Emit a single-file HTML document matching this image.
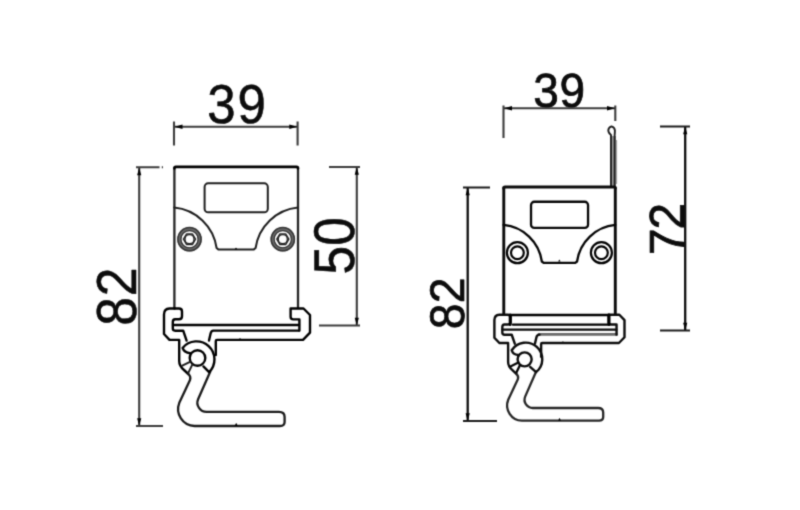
<!DOCTYPE html><html><head><meta charset="utf-8"><title>Dimensions</title>
<style>html,body{margin:0;padding:0;background:#fff;}body{width:800px;height:510px;overflow:hidden;}svg{display:block;}text{font-family:"Liberation Sans",Arial,sans-serif;text-rendering:geometricPrecision;fill:#0c0c0c;stroke:#0c0c0c;stroke-linejoin:round;}.m{fill:none;stroke:#1e1e1e;stroke-width:2.0;stroke-linecap:round;stroke-linejoin:round;vector-effect:non-scaling-stroke;}.t{fill:none;stroke:#000;stroke-width:2.4;stroke-linecap:round;stroke-linejoin:round;vector-effect:non-scaling-stroke;}.d{fill:none;stroke:#3c3c3c;stroke-width:2.1;}.s{fill:none;stroke:#262626;stroke-width:2.3;stroke-linecap:round;vector-effect:non-scaling-stroke;}.a{fill:#000;stroke:none;}.arm{stroke:#1a1a1a;stroke-width:2.3;}.r .t.arm{stroke:#262626;stroke-width:2.3;}.r .s{stroke-width:2.9;stroke:#0a0a0a;}.r .t{stroke-width:2.4;stroke:#0c0c0c;}.r .m{stroke-width:2.3;stroke:#050505;}</style></head><body>
<svg width="800" height="510" viewBox="0 0 800 510">
<defs><filter id="soft" x="0" y="0" width="800" height="510" filterUnits="userSpaceOnUse" color-interpolation-filters="sRGB"><feConvolveMatrix order="3" kernelMatrix="1 4 1 4 16 4 1 4 1" edgeMode="duplicate" preserveAlpha="false"/></filter></defs>
<rect width="800" height="510" fill="#fff"/>
<g filter="url(#soft)">
<g id="left">
<text transform="matrix(1.0220 0 0 1.0944 0 122.78)" x="202.89 232.51" y="0" font-size="50" stroke-width="0.5">39</text>
<path class="d" d="M174 126.8H298M174 121.5V145.5M297.6 121.5V145.5"/>
<path class="a" d="M174.5 126.8l8 -2.3v4.6zM297.3 126.8l-8 -2.3v4.6z"/>
<text transform="matrix(0 -1.0328 1.1250 0 136.36 0)" x="-315.32 -286.92" y="0" font-size="50" stroke-width="0.5">82</text>
<path class="d" d="M139.2 167.5V426M136 167.3H159.5M161.8 167.3H163M136 426H163"/>
<path class="a" d="M139.2 167.8l-2.1 7.5h4.2zM139.2 425.7l-2.1 -7.5h4.2z"/>
<text transform="matrix(0 -1.0268 1.1472 0 353.94 0)" x="-267.28 -239.33" y="0" font-size="50" stroke-width="0.5">50</text>
<path class="d" d="M356.8 167V325.5M329 167H360M319 325.5H360"/>
<path class="a" d="M356.8 167.3l-2.1 7.5h4.2zM356.8 325.2l-2.1 -7.5h4.2z"/>
<path class="s" d="M174.4 308V168M298 168V308"/>
<path class="t" d="M174.4 168.4Q174.4 166.9 175.8 166.9H296.6Q298 166.9 298 168.4" style="stroke-width:2.6"/>
<rect class="m" x="204.6" y="183.3" width="63.2" height="29" rx="3.6" ry="3.6"/>
<path class="m" transform="translate(0 0)" d="M174.2 207.5A47.4 47.4 0 0 1 216.6 248L218.6 249.6H253.6L255.6 248A47.4 47.4 0 0 1 298 207.5"/>
<path class="t" d="M174.5 308.5H169.5Q164 308.8 164 314.5V334L169.5 339.9H179.2V361Q179.2 366 184 370L188.3 374"/>
<path class="t arm" d="M188.3 374Q191.2 376.5 190 380L179.3 402.8A17 17 0 0 0 194.5 426H280Q284.6 426 284.6 422V417Q284.6 411.9 279 411.9H207A9.2 9.2 0 0 1 198.2 399L210.3 371.5"/>
<path class="a" d="M234.6 426l1.6 -3.2l1.6 3.2zM234.6 249.6l1.4 -2.2l1.4 2.2zM238.6 339.9l1.4 -2.2l1.4 2.2z"/>
<path class="t" d="M174.5 308.5H179Q182 308.5 182 311.5V316.3Q182 319.3 179 319.3H175.2Q172.8 319.5 172.8 322V328.6Q172.8 330.7 175.2 330.7H183.2L186.6 340.6"/>
<path class="t" d="M173 325H299"/>
<path class="t" d="M299 330.6H213.4Q211.2 330.8 210.6 333.5L209 340.5"/>
<path class="t" d="M215.8 355V341Q215.8 339.9 217 339.9H303L310 332.6V315L303.5 308.5H290.6V316.8Q290.6 319.4 293.2 319.4H299.4V330.6"/>
<circle class="t" cx="197.5" cy="358" r="7.8"/>
<path class="t" d="M190.3 353.2Q184 352.5 182.6 347.9A18 18 0 1 1 209.1 372.2L203.4 366.4"/>
<path class="m" d="M182.3 365.6L190 361.8M192.3 364.6L188.4 372.6"/>
<circle cx="189.5" cy="239.2" r="10.2" fill="none" stroke="#666" stroke-width="4.0"/>
<circle cx="189.5" cy="239.2" r="11.6" fill="none" stroke="#333" stroke-width="1.5"/>
<circle cx="189.5" cy="239.2" r="8.6" fill="none" stroke="#333" stroke-width="1.1"/>
<polygon points="195.50,239.20 192.50,244.40 186.50,244.40 183.50,239.20 186.50,234.00 192.50,234.00" fill="none" stroke="#222" stroke-width="1.5" stroke-linejoin="round"/>
<circle cx="189.5" cy="239.2" r="4.5" fill="none" stroke="#222" stroke-width="1.3"/>
<circle cx="282.8" cy="239.2" r="10.2" fill="none" stroke="#666" stroke-width="4.0"/>
<circle cx="282.8" cy="239.2" r="11.6" fill="none" stroke="#333" stroke-width="1.5"/>
<circle cx="282.8" cy="239.2" r="8.6" fill="none" stroke="#333" stroke-width="1.1"/>
<polygon points="288.80,239.20 285.80,244.40 279.80,244.40 276.80,239.20 279.80,234.00 285.80,234.00" fill="none" stroke="#222" stroke-width="1.5" stroke-linejoin="round"/>
<circle cx="282.8" cy="239.2" r="4.5" fill="none" stroke="#222" stroke-width="1.3"/>
</g>
<g id="right">
<text transform="matrix(0.9204 0 0 0.9587 0 106.94)" x="579.38 607.78" y="0" font-size="50" stroke-width="0.8">39</text>
<path class="d" d="M503 108.3H616M503.5 105.5V138M615.3 105.5V121"/>
<path class="a" d="M504 108.3l8 -2.3v4.6zM615 108.3l-8 -2.3v4.6z"/>
<text transform="matrix(0 -0.9258 0.9725 0 463.92 0)" x="-355.70 -327.65" y="0" font-size="50" stroke-width="0.8">82</text>
<path class="d" d="M467.7 187.5V421" style="stroke:#0c0c0c;stroke-width:2.3"/>
<path class="d" d="M463 187.5H490M463 421H497" style="stroke:#1c1c1c;stroke-width:1.9"/>
<path class="a" d="M467.7 187.8l-2.1 7.5h4.2zM467.7 420.7l-2.1 -7.5h4.2z"/>
<text transform="matrix(0 -0.9554 0.9860 0 683.91 0)" x="-266.91 -240.22" y="0" font-size="50" stroke-width="0.8">72</text>
<path class="d" d="M685.2 126.5V330.5" style="stroke:#0c0c0c;stroke-width:2.3"/>
<path class="d" d="M660 126.5H690M660 330.5H690" style="stroke:#1c1c1c;stroke-width:1.9"/>
<path class="a" d="M685.2 126.8l-2.1 7.5h4.2zM685.2 330.2l-2.1 -7.5h4.2z"/>
<path d="M611 136H616V186H611z" fill="#9a9a9a"/>
<path class="m" d="M611 186.5V135Q608.3 133.2 608.3 130.3Q608.3 127.6 611.5 126.4Q614.9 127.6 614.9 130.6Q614.9 132.5 614.6 135.5V186.5" style="stroke-width:1.9"/>
<path d="M616.6 140V184" fill="none" stroke="#999" stroke-width="1"/>
<g class="r" transform="matrix(0.9022 0 0 0.9022 346.437 36.381)">
<path class="s" d="M174.4 308V168M298 168V308"/>
<path class="t" d="M174.4 168.4Q174.4 166.9 175.8 166.9H296.6Q298 166.9 298 168.4" style="stroke-width:3.0"/>
<rect class="m" x="204.6" y="183.3" width="63.2" height="29" rx="3.6" ry="3.6"/>
<path class="m" transform="translate(0 1.5)" d="M174.2 207.5A47.4 47.4 0 0 1 216.6 248L218.6 249.6H253.6L255.6 248A47.4 47.4 0 0 1 298 207.5"/>
<path class="t" d="M174.5 308.5H169.5Q164 308.8 164 314.5V334L169.5 339.9H179.2V361Q179.2 366 184 370L188.3 374"/>
<path class="t arm" d="M188.3 374Q191.2 376.5 190 380L179.3 402.8A17 17 0 0 0 194.5 426H280Q284.6 426 284.6 422V417Q284.6 411.9 279 411.9H207A9.2 9.2 0 0 1 198.2 399L210.3 371.5"/>
<path class="a" d="M234.6 426l1.6 -3.2l1.6 3.2zM234.6 249.6l1.4 -2.2l1.4 2.2zM238.6 339.9l1.4 -2.2l1.4 2.2z"/>
<path class="t" d="M174.5 308.5H179Q182 308.5 182 311.5V316.3Q182 319.3 179 319.3H175.2Q172.8 319.5 172.8 322V328.6Q172.8 330.7 175.2 330.7H183.2L186.6 340.6"/>
<path class="t" d="M173 325H299"/>
<path class="t" d="M299 330.4H213.4" style="stroke:#6a6a6a;stroke-width:2.8"/>
<path class="t" d="M214 330.6Q211.2 330.8 210.6 333.5L209 340.5"/>
<path class="t" d="M215.8 355V341Q215.8 339.9 217 339.9H302L308.2 333.5V314.5L302.5 308.5H290.6V316.8Q290.6 319.4 293.2 319.4H299.4V330.6"/>
<circle class="t" cx="197.5" cy="358" r="7.8"/>
<path class="t" d="M190.3 353.2Q184.4 352.5 183.2 347.9A18.4 18.4 0 1 1 210.2 372.2L203.6 366.4"/>
<path class="m" d="M182.3 365.6L190 361.8M192.3 364.6L188.4 372.6"/>
</g>
<path class="t" d="M510 315H609M513 324.6H609" style="stroke-width:2.4"/>
<path class="t" d="M510.2 315V324.5M609 315V324.5" style="stroke-width:3"/>
<circle cx="517.4" cy="252.7" r="10.5" class="m" style="stroke:#000;stroke-width:2.2"/>
<circle cx="517.4" cy="252.7" r="6.4" class="m" style="stroke:#000;stroke-width:2.2"/>
<circle cx="601.4" cy="252.7" r="10.5" class="m" style="stroke:#000;stroke-width:2.2"/>
<circle cx="601.4" cy="252.7" r="6.4" class="m" style="stroke:#000;stroke-width:2.2"/>
</g>
</g>
</svg></body></html>
